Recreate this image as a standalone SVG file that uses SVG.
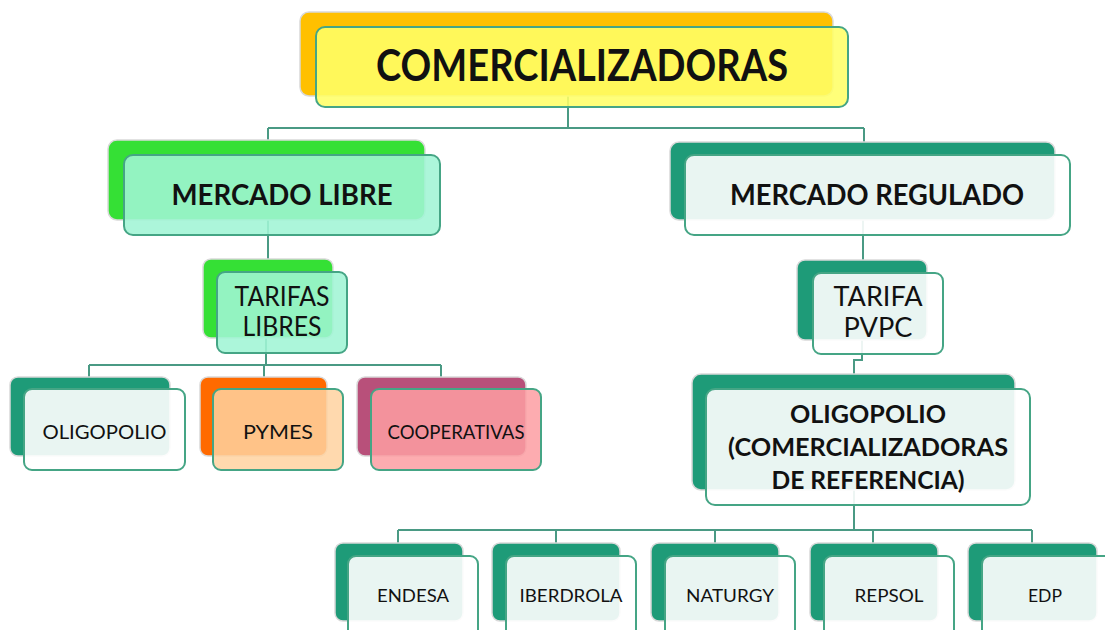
<svg xmlns="http://www.w3.org/2000/svg" width="1105" height="630" viewBox="0 0 1105 630">
<style>
.bk{stroke:#d9d9d9;stroke-width:1.5}
.fr{stroke:#45a585;stroke-width:2}
.w{fill:#ffffff;fill-opacity:0.9}
.t{font-family:Lato,"Open Sans","Liberation Sans",sans-serif;fill:#111;text-anchor:middle}
.b{font-weight:bold}
.con{fill:none;stroke:#4a9a84;stroke-width:2}
</style>
<rect width="1105" height="630" fill="#fff"/>
<g id="connectors">
<path class="con" d="M568,90V128M268,128H864M268,128V140M864,128V142"/>
<path class="con" d="M268,200V259M863,200V260"/>
<path class="con" d="M266,320V365M89,365H441M89,365V377M264,365V377M441,365V377"/>
<path class="con" d="M862,320V360H854V374"/>
<path class="con" d="M854,470V530M398,530H1032M398,530V543M556,530V543M715,530V543M873,530V543M1032,530V543"/>
</g>
<g id="comercializadoras">
<rect class="bk" x="300" y="12" width="533" height="84" rx="9" fill="#ffc000"/>
<rect class="fr" x="316" y="27" width="532" height="80" rx="9" fill="#ffff66" fill-opacity="0.88"/>
<text class="t b" x="582" y="81" font-size="44" textLength="412" lengthAdjust="spacingAndGlyphs">COMERCIALIZADORAS</text>
</g>
<g id="mercado-libre">
<rect class="bk" x="108" y="140" width="317" height="80" rx="9" fill="#35e035"/>
<rect class="fr" x="124" y="155" width="316" height="80" rx="9" fill="#a0f5d5" fill-opacity="0.88"/>
<text class="t b" x="282" y="205" font-size="28" textLength="221" lengthAdjust="spacingAndGlyphs">MERCADO LIBRE</text>
</g>
<g id="mercado-regulado">
<rect class="bk" x="670" y="142" width="385" height="78" rx="9" fill="#1e9b78"/>
<rect class="fr w" x="685" y="155" width="385" height="80" rx="9"/>
<text class="t b" x="877" y="205" font-size="28" textLength="294" lengthAdjust="spacingAndGlyphs">MERCADO REGULADO</text>
</g>
<g id="tarifas-libres">
<rect class="bk" x="203" y="259" width="130" height="79" rx="8" fill="#35e035"/>
<rect class="fr" x="217" y="272" width="130" height="81" rx="8" fill="#a0f5d5" fill-opacity="0.88"/>
<text class="t" x="282" y="306" font-size="26" textLength="95" lengthAdjust="spacingAndGlyphs">TARIFAS</text>
<text class="t" x="282" y="336" font-size="26" textLength="79" lengthAdjust="spacingAndGlyphs">LIBRES</text>
</g>
<g id="tarifa-pvpc">
<rect class="bk" x="797" y="260" width="130" height="80" rx="8" fill="#1e9b78"/>
<rect class="fr w" x="813" y="273" width="130" height="81" rx="8"/>
<text class="t" x="878" y="306" font-size="26" textLength="89" lengthAdjust="spacingAndGlyphs">TARIFA</text>
<text class="t" x="878" y="337" font-size="26" textLength="69" lengthAdjust="spacingAndGlyphs">PVPC</text>
</g>
<g id="oligopolio-libre">
<rect class="bk" x="10" y="377" width="160" height="79" rx="8" fill="#1e9b78"/>
<rect class="fr w" x="24" y="389" width="161" height="81" rx="8"/>
<text class="t" x="104.5" y="439" font-size="19" textLength="124" lengthAdjust="spacingAndGlyphs">OLIGOPOLIO</text>
</g>
<g id="pymes">
<rect class="bk" x="200" y="377" width="127" height="79" rx="8" fill="#ff6a00"/>
<rect class="fr" x="213" y="389" width="130" height="81" rx="8" fill="#ffd2a0" fill-opacity="0.85"/>
<text class="t" x="278" y="439" font-size="19" textLength="70" lengthAdjust="spacingAndGlyphs">PYMES</text>
</g>
<g id="cooperativas">
<rect class="bk" x="357" y="377" width="169" height="79" rx="8" fill="#b8507a"/>
<rect class="fr" x="371" y="389" width="170" height="81" rx="8" fill="#fd9ea2" fill-opacity="0.85"/>
<text class="t" x="456" y="439" font-size="19" textLength="137" lengthAdjust="spacingAndGlyphs">COOPERATIVAS</text>
</g>
<g id="oligopolio-referencia">
<rect class="bk" x="692" y="374" width="323" height="116" rx="9" fill="#1e9b78"/>
<rect class="fr w" x="706" y="389" width="324" height="116" rx="9"/>
<text class="t b" x="868" y="423" font-size="24" textLength="156" lengthAdjust="spacingAndGlyphs">OLIGOPOLIO</text>
<text class="t b" x="868" y="456" font-size="24" textLength="280" lengthAdjust="spacingAndGlyphs">(COMERCIALIZADORAS</text>
<text class="t b" x="868" y="489" font-size="24" textLength="193" lengthAdjust="spacingAndGlyphs">DE REFERENCIA)</text>
</g>
<g id="endesa">
<rect class="bk" x="335" y="543" width="128" height="78" rx="8" fill="#1e9b78"/>
<rect class="fr w" x="348" y="556" width="130" height="90" rx="8"/>
<text class="t" x="413" y="602" font-size="17" textLength="72" lengthAdjust="spacingAndGlyphs">ENDESA</text>
</g>
<g id="iberdrola">
<rect class="bk" x="492" y="543" width="128" height="78" rx="8" fill="#1e9b78"/>
<rect class="fr w" x="506" y="556" width="130" height="90" rx="8"/>
<text class="t" x="571" y="602" font-size="17" textLength="103" lengthAdjust="spacingAndGlyphs">IBERDROLA</text>
</g>
<g id="naturgy">
<rect class="bk" x="651" y="543" width="128" height="78" rx="8" fill="#1e9b78"/>
<rect class="fr w" x="665" y="556" width="130" height="90" rx="8"/>
<text class="t" x="730" y="602" font-size="17" textLength="88" lengthAdjust="spacingAndGlyphs">NATURGY</text>
</g>
<g id="repsol">
<rect class="bk" x="810" y="543" width="128" height="78" rx="8" fill="#1e9b78"/>
<rect class="fr w" x="824" y="556" width="130" height="90" rx="8"/>
<text class="t" x="889" y="602" font-size="17" textLength="69" lengthAdjust="spacingAndGlyphs">REPSOL</text>
</g>
<g id="edp">
<rect class="bk" x="968" y="543" width="129" height="78" rx="8" fill="#1e9b78"/>
<rect class="fr w" x="982" y="556" width="130" height="90" rx="8"/>
<text class="t" x="1045" y="602" font-size="17" textLength="34" lengthAdjust="spacingAndGlyphs">EDP</text>
</g>
</svg>
